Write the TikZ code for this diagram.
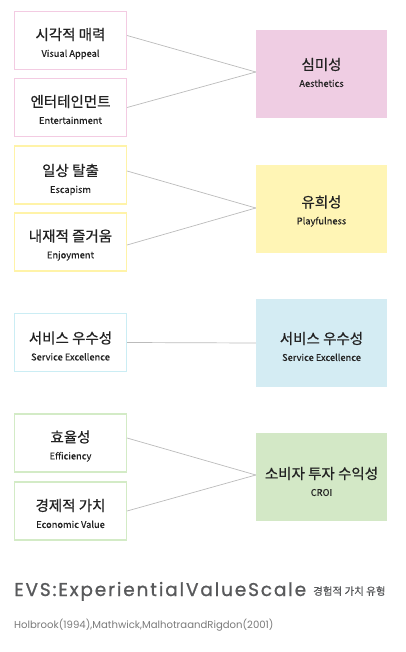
\documentclass[tikz,border=0pt]{standalone}
\usepackage{fontspec}
\setmainfont{Noto Sans CJK KR}
\newfontfamily\krfont[FakeBold=0.6]{Noto Sans CJK KR}
\newfontfamily\enfont[FakeBold=0.3]{Noto Sans CJK KR}
\newfontfamily\titlefont[LetterSpace=10,FakeBold=1]{Poppins}
\newfontfamily\reffont{Poppins}
\usetikzlibrary{calc}
\definecolor{pinkB}{HTML}{F3CBE2}
\definecolor{pinkF}{HTML}{EFCDE3}
\definecolor{yelB}{HTML}{FFF3A8}
\definecolor{yelF}{HTML}{FFF5B5}
\definecolor{bluB}{HTML}{CBEDF4}
\definecolor{bluF}{HTML}{D4ECF3}
\definecolor{grnB}{HTML}{D3EBC6}
\definecolor{grnF}{HTML}{D3E8C6}
\definecolor{linkC}{HTML}{BBBBBB}
\definecolor{txt}{HTML}{222222}
\definecolor{titleC}{HTML}{58595B}
\definecolor{subC}{HTML}{7A7A7A}
\newcommand{\bx}[2]{{\krfont\fontsize{14.5}{16}\selectfont #1}\\[5pt]{\enfont\fontsize{9.3}{10}\selectfont #2}}
\tikzset{
  lbox/.style={draw=#1, line width=1.1pt, fill=white, minimum width=112pt, minimum height=58pt, inner sep=0pt},
  rbox/.style={fill=#1, draw=none, minimum width=131pt, minimum height=88pt, inner sep=0pt},
  lbl/.style={align=center, inner sep=0pt, text=txt},
  link/.style={draw=linkC, line width=0.7pt}
}
\begin{document}
\begin{tikzpicture}[x=1pt,y=-1pt]
\useasboundingbox (0,0) rectangle (405,652);
% group 1
\node[lbox=pinkB] (va) at (70.5,40.5) {};
\node[lbl] (va-t) at ($(va)+(0,3)$) {\bx{시각적 매력}{Visual Appeal}};
\node[lbox=pinkB] (en) at (70.5,107.5) {};
\node[lbl] (en-t) at ($(en)+(0,2)$) {\bx{엔터테인먼트}{Entertainment}};
\node[rbox=pinkF] (ae) at (321.5,74) {};
\node[lbl] (ae-t) at ($(ae)+(0,-1.5)$) {\bx{심미성}{Aesthetics}};
% group 2
\node[lbox=yelB] (es) at (70.5,175) {};
\node[lbl] (es-t) at ($(es)+(0,4.5)$) {\bx{일상 탈출}{Escapism}};
\node[lbox=yelB] (ej) at (70.5,242) {};
\node[lbl] (ej-t) at ($(ej)+(0,3)$) {\bx{내재적 즐거움}{Enjoyment}};
\node[rbox=yelF] (pl) at (321.5,209) {};
\node[lbl] (pl-t) at ($(pl)+(0,2)$) {\bx{유희성}{Playfulness}};
% group 3
\node[lbox=bluB] (se) at (70.5,342.5) {};
\node[lbl] (se-t) at ($(se)+(0,3.5)$) {\bx{서비스 우수성}{Service Excellence}};
\node[rbox=bluF] (se2) at (321.5,343) {};
\node[lbl] (se2-t) at ($(se2)+(0,3.5)$) {\bx{서비스 우수성}{Service Excellence}};
% group 4
\node[lbox=grnB] (ef) at (70.5,443) {};
\node[lbl] (ef-t) at ($(ef)+(0,3)$) {\bx{효율성}{Efficiency}};
\node[lbox=grnB] (ev) at (70.5,511) {};
\node[lbl] (ev-t) at ($(ev)+(0,2.5)$) {\bx{경제적 가치}{Economic Value}};
\node[rbox=grnF] (cr) at (321.5,477) {};
\node[lbl] (cr-t) at ($(cr)+(0,4.5)$) {\bx{소비자 투자 수익성}{CROI}};
% connectors
\draw[link] ($(va.east)+(0,-5)$) -- ($(ae.west)+(0,-2)$);
\draw[link] (en.east) -- ($(ae.west)+(0,-2)$);
\draw[link] ($(es.east)+(0,-4)$) -- ($(pl.west)+(0,-1)$);
\draw[link] ($(ej.east)+(0,3)$) -- ($(pl.west)+(0,-1)$);
\draw[link] (se.east) -- (se2.west);
\draw[link] ($(ef.east)+(0,-5)$) -- ($(cr.west)+(0,-2)$);
\draw[link] (ev.east) -- ($(cr.west)+(0,-2)$);
% captions
\node[anchor=base west, inner sep=0pt, text=titleC] (title) at (14,596) {\titlefont\fontsize{18.5}{20}\selectfont EVS:ExperientialValueScale};
\node[anchor=base west, inner sep=0pt, text=titleC] (titlekr) at (313,595) {\krfont\fontsize{10.5}{12}\selectfont 경험적 가치 유형};
\node[anchor=base west, inner sep=0pt, text=subC] (ref) at (14,628) {\reffont\fontsize{10.1}{11}\selectfont Holbrook(1994),Mathwick,MalhotraandRigdon(2001)};
\end{tikzpicture}
\end{document}
